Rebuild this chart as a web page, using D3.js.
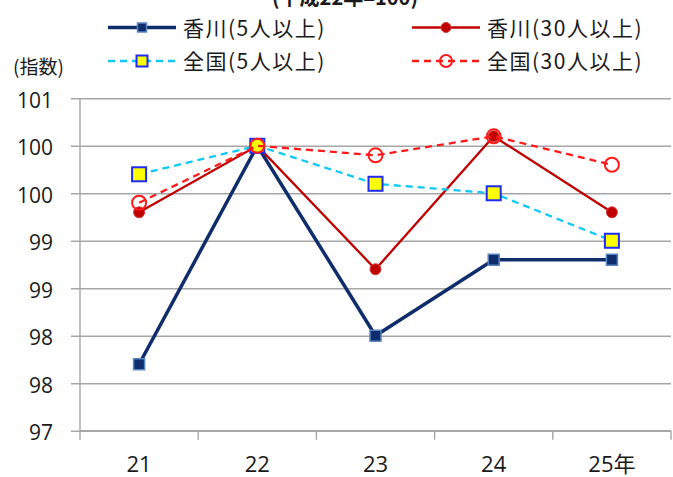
<!DOCTYPE html>
<html>
<head>
<meta charset="utf-8">
<script src="https://cdn.jsdelivr.net/npm/d3@7"></script>
<style>
  body { margin: 0; background: #fff; }
  text { font-family: "Noto Sans CJK JP", "Noto Sans", sans-serif; fill: #1a1a1a; }
</style>
</head>
<body>
<script>
// index values, base year H22 = 100
var years = ['21','22','23','24','25'];
var yearLabels = ['21','22','23','24','25年'];
var kagawa5 = [97.7, 100.0, 98.0, 98.8, 98.8];
var kagawa30 = [99.3, 100.0, 98.7, 100.1, 99.3];
var zenkoku5 = [99.7, 100.0, 99.6, 99.5, 99.0];
var zenkoku30 = [99.4, 100.0, 99.9, 100.1, 99.8];
var yTicks = [97, 97.5, 98, 98.5, 99, 99.5, 100, 100.5];
var yTickLabels = ['97','98','98','99','99','100','100','101'];
var seriesNames = ['香川(5人以上)','香川(30人以上)','全国(5人以上)','全国(30人以上)'];

var width = 673, height = 477;
var margin = {left:80, right:2, top:98.3, bottom:46.3};
var innerW = width - margin.left - margin.right;
var innerH = height - margin.top - margin.bottom;

var svg = d3.select("body").append("svg").attr("width",width).attr("height",height);

var x = d3.scaleBand().domain(years).range([0,innerW]);
var y = d3.scaleLinear().domain([97,100.5]).range([innerH,0]);

var g = svg.append("g").attr("transform","translate("+margin.left+","+margin.top+")");

// gridlines + y axis
var yAxis = d3.axisLeft(y).tickValues(yTicks)
    .tickFormat(function(d,i){ return yTickLabels[i]; })
    .tickSize(-innerW).tickSizeOuter(0).tickPadding(27);
var yg = g.append("g").call(yAxis);
yg.select(".domain").remove();
yg.selectAll(".tick line").attr("stroke","#a6a6a6").attr("stroke-width",1.4).attr("x1",-9);
yg.selectAll(".tick text").attr("font-size",21).attr("dy","0.42em")
  .style("font-family","'Open Sans','Noto Sans',sans-serif").attr("fill","#222");

g.append("line").attr("x1",0).attr("x2",0).attr("y1",0).attr("y2",innerH)
  .attr("stroke","#a6a6a6").attr("stroke-width",1.4);

// x axis, ticks between categories
var xg = g.append("g").attr("transform","translate(0,"+innerH+")");
xg.append("line").attr("x1",0).attr("x2",innerW).attr("stroke","#a6a6a6").attr("stroke-width",1.4);
var bounds = years.map(function(d){ return x(d); }).concat([innerW]);
xg.selectAll(".xt").data(bounds).enter().append("line")
  .attr("x1",function(d){ return d; }).attr("x2",function(d){ return d; })
  .attr("y1",0).attr("y2",9).attr("stroke","#a6a6a6").attr("stroke-width",1.4);
xg.selectAll(".xl").data(years).enter().append("text")
  .attr("x",function(d){ return x(d)+x.bandwidth()/2; })
  .attr("y",41).attr("text-anchor","middle").attr("font-size",22)
  .style("font-family","'Open Sans','Noto Sans CJK JP',sans-serif").attr("fill","#222")
  .text(function(d,i){ return yearLabels[i]; });

var line = d3.line()
  .x(function(d,i){ return x(years[i])+x.bandwidth()/2; })
  .y(function(d){ return y(d); });

var styles = [
  {data:kagawa5, color:"#0f2d6b", w:3.5, dash:null, marker:"sq", size:11, fill:"#0f2d6b", stroke:"#5b86c4", sw:1.5},
  {data:kagawa30, color:"#c00000", w:2.3, dash:null, marker:"dot", size:5.5, fill:"#c00000", stroke:"#d43a3a", sw:1},
  {data:zenkoku5, color:"#10c8f5", w:2.3, dash:"7,5", marker:"sq", size:14, fill:"#ffff00", stroke:"#1c2cf0", sw:2},
  {data:zenkoku30, color:"#ff1a1a", w:2.3, dash:"7,5", marker:"ring", size:7, fill:"none", stroke:"#ff1a1a", sw:2}
];

function drawMarker(sel, s, cx, cy){
  if(s.marker==="sq"){
    sel.append("rect").attr("x",cx-s.size/2).attr("y",cy-s.size/2)
      .attr("width",s.size).attr("height",s.size)
      .attr("fill",s.fill).attr("stroke",s.stroke).attr("stroke-width",s.sw);
  } else {
    sel.append("circle").attr("cx",cx).attr("cy",cy).attr("r",s.size)
      .attr("fill",s.fill).attr("stroke",s.stroke).attr("stroke-width",s.sw);
  }
}

styles.forEach(function(s){
  g.append("path").attr("d",line(s.data)).attr("fill","none")
    .attr("stroke",s.color).attr("stroke-width",s.w)
    .attr("stroke-dasharray",s.dash);
  s.data.forEach(function(v,i){
    drawMarker(g, s, x(years[i])+x.bandwidth()/2, y(v));
  });
});

// legend
var legPos = [[108,27.5],[412,27.5],[108,61],[412,61]];
styles.forEach(function(s,i){
  var lx = legPos[i][0], ly = legPos[i][1];
  var lg = svg.append("g");
  lg.append("line").attr("x1",lx).attr("x2",lx+68).attr("y1",ly).attr("y2",ly)
    .attr("stroke",s.color).attr("stroke-width",s.w).attr("stroke-dasharray",s.dash);
  var ms = Object.assign({}, s, {size: s.marker==="sq" ? (s.size>12?11:9) : (s.marker==="ring"?6:5)});
  drawMarker(lg, ms, lx+34, ly);
  lg.append("text").attr("x",lx+75).attr("y",ly+8).attr("font-size",21)
    .attr("letter-spacing",1.5).text(seriesNames[i]);
});

// title (cut off at top, as in the source) and unit label
svg.append("text").attr("x",345).attr("y",5).attr("text-anchor","middle")
  .attr("font-size",20).attr("font-weight","bold").text("(平成22年=100)");
svg.append("text").attr("x",13).attr("y",74).attr("font-size",19).text("(指数)");
</script>
</body>
</html>
